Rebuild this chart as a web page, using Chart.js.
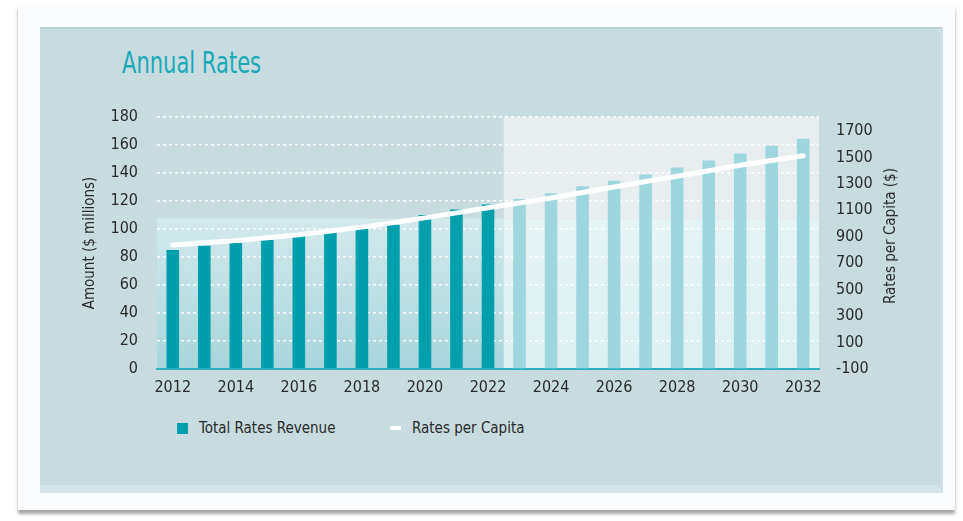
<!DOCTYPE html>
<html>
<head>
<meta charset="utf-8">
<script src="https://cdn.jsdelivr.net/npm/chart.js@4.4.1/dist/chart.umd.min.js"></script>
<style>
    html, body { margin: 0; padding: 0; background: #ffffff; }
    body { width: 963px; height: 521px; position: relative; overflow: hidden;
           font-family: 'Liberation Sans Narrow', 'DejaVu Sans Condensed', 'Roboto', sans-serif; }
    .frame { position: absolute; left: 18px; top: 5px; width: 937px; height: 505px; background: #fbfcfd;
             box-shadow: 0 4px 3px rgba(60, 60, 60, 0.45); }
    .panel { position: absolute; left: 40px; top: 27px; width: 900px; height: 456px; background: #c8dbdf;
             border-right: 3px solid #cfe0e6; border-bottom: 8px solid #d3e3e7;
             border-top: 2px solid #bccfd5; }
    .title { position: absolute; left: 122px; top: 45px; font-size: 30px; color: #19a9b7;
             transform: scaleX(0.78); transform-origin: left top; white-space: nowrap; }
    .axis-title { position: absolute; font-size: 15px; color: #2a2a2a; white-space: nowrap;
                  transform: translate(-50%, -50%) rotate(-90deg); }
    .legend-item { position: absolute; top: 419px; font-size: 15px; color: #2a2a2a; line-height: 18px; }
    .legend-swatch { position: absolute; }
    #chart { position: absolute; left: 0; top: 0; }
</style>
</head>
<body>
<div class="frame"></div>
<div class="panel"></div>
<div class="title">Annual Rates</div>

<div class="legend-swatch" style="left:177px;top:423px;width:11px;height:11px;background:#009fac;"></div>
<div class="legend-item" style="left:199px;">Total Rates Revenue</div>
<div class="legend-swatch" style="left:390px;top:426px;width:11px;height:4px;background:#ffffff;"></div>
<div class="legend-item" style="left:412px;">Rates per Capita</div>

<canvas id="chart" width="963" height="521"></canvas>
<div class="axis-title" style="left:890px;top:236px;">Rates per Capita ($)</div>

<script>
const years = ['2012', '2013', '2014', '2015', '2016', '2017', '2018', '2019', '2020', '2021', '2022',
               '2023', '2024', '2025', '2026', '2027', '2028', '2029', '2030', '2031', '2032'];

// Total rates revenue, $ millions
const revenue = [85, 88, 90, 92.5, 95, 98, 100.5, 103, 110, 114, 117.5,
                 121.5, 125.5, 130.5, 134.5, 139, 144, 149, 154, 159.5, 164.5];

// Rates per capita, $
const perCapita = [838, 854, 871, 893, 916, 944, 973, 1007, 1043, 1081, 1120,
                   1156, 1193, 1235, 1277, 1318, 1358, 1400, 1441, 1477, 1513];

const rightTicks = [-100, 100, 300, 500, 700, 900, 1100, 1300, 1500, 1700];

const lastActual = 10;   // 2022, everything after is forecast
const shadedTop = 107.5;  // height of the lower shaded band ($m)

const darkTeal = '#009fac';
const lightTeal = '#9dd6dd';
const barColors = years.map((y, i) => i <= lastActual ? darkTeal : lightTeal);

const fontFamily = "'Liberation Sans Narrow', 'DejaVu Sans Condensed', 'Roboto', sans-serif";
const textColor = '#2a2a2a';

// Shaded blocks behind the plot: actuals vs forecast
const backdrop = {
    id: 'backdrop',
    beforeDraw(chart) {
        const { ctx, chartArea: area, scales } = chart;
        const splitX = (scales.x.getPixelForValue(lastActual) + scales.x.getPixelForValue(lastActual + 1)) / 2;
        const splitY = scales.y.getPixelForValue(shadedTop);
        ctx.save();

        let g = ctx.createLinearGradient(0, splitY, 0, area.bottom);
        g.addColorStop(0, '#d3e9ec');
        g.addColorStop(1, '#a8d5dc');
        ctx.fillStyle = g;
        ctx.fillRect(area.left, splitY, splitX - area.left, area.bottom - splitY);

        ctx.fillStyle = '#e8eef0';
        ctx.fillRect(splitX, area.top, area.right - splitX, splitY - area.top);

        g = ctx.createLinearGradient(0, splitY, 0, area.bottom);
        g.addColorStop(0, '#e5f3f4');
        g.addColorStop(1, '#dcf0f2');
        ctx.fillStyle = g;
        ctx.fillRect(splitX, splitY, area.right - splitX, area.bottom - splitY);
        ctx.restore();
    }
};

new Chart(document.getElementById('chart'), {
    data: {
        labels: years,
        datasets: [
            {
                type: 'line',
                label: 'Rates per Capita',
                data: perCapita,
                yAxisID: 'y1',
                borderColor: '#ffffff',
                borderWidth: 5,
                borderCapStyle: 'round',
                pointRadius: 0,
                tension: 0.3,
                order: 0
            },
            {
                type: 'bar',
                label: 'Total Rates Revenue',
                data: revenue,
                yAxisID: 'y',
                backgroundColor: barColors,
                categoryPercentage: 1,
                barPercentage: 0.4,
                order: 1
            }
        ]
    },
    options: {
        responsive: false,
        animation: false,
        layout: { padding: { left: 81, right: 65, top: 117, bottom: 112 } },
        plugins: {
            legend: { display: false },
            tooltip: { enabled: false }
        },
        scales: {
            x: {
                grid: { drawOnChartArea: false, drawTicks: false },
                border: { display: true, color: '#2bb2be', width: 2 },
                ticks: {
                    autoSkip: false,
                    maxRotation: 0,
                    padding: 9,
                    color: textColor,
                    font: { family: fontFamily, size: 16 },
                    callback: (val, i) => i % 2 === 0 ? years[i] : ''
                },
                afterFit: scale => { scale.height = 40; }
            },
            y: {
                position: 'left',
                min: 0,
                max: 180,
                ticks: {
                    stepSize: 20,
                    padding: 19,
                    color: textColor,
                    font: { family: fontFamily, size: 16 }
                },
                grid: { color: 'rgba(255,255,255,0.95)', lineWidth: 1.5, drawTicks: false },
                border: { display: false, dash: [3, 3] },
                title: {
                    display: true,
                    text: 'Amount ($ millions)',
                    color: textColor,
                    font: { family: fontFamily, size: 15 },
                    padding: 0
                },
                afterFit: scale => { scale.width = 76; }
            },
            y1: {
                position: 'right',
                min: -100,
                max: 1806,
                afterBuildTicks: scale => { scale.ticks = rightTicks.map(v => ({ value: v })); },
                ticks: {
                    padding: 17,
                    color: textColor,
                    font: { family: fontFamily, size: 16 },
                    callback: v => String(v)
                },
                grid: { drawOnChartArea: false, drawTicks: false },
                border: { display: false },
                afterFit: scale => { scale.width = 79; }
            }
        }
    },
    plugins: [backdrop]
});
</script>
</body>
</html>
